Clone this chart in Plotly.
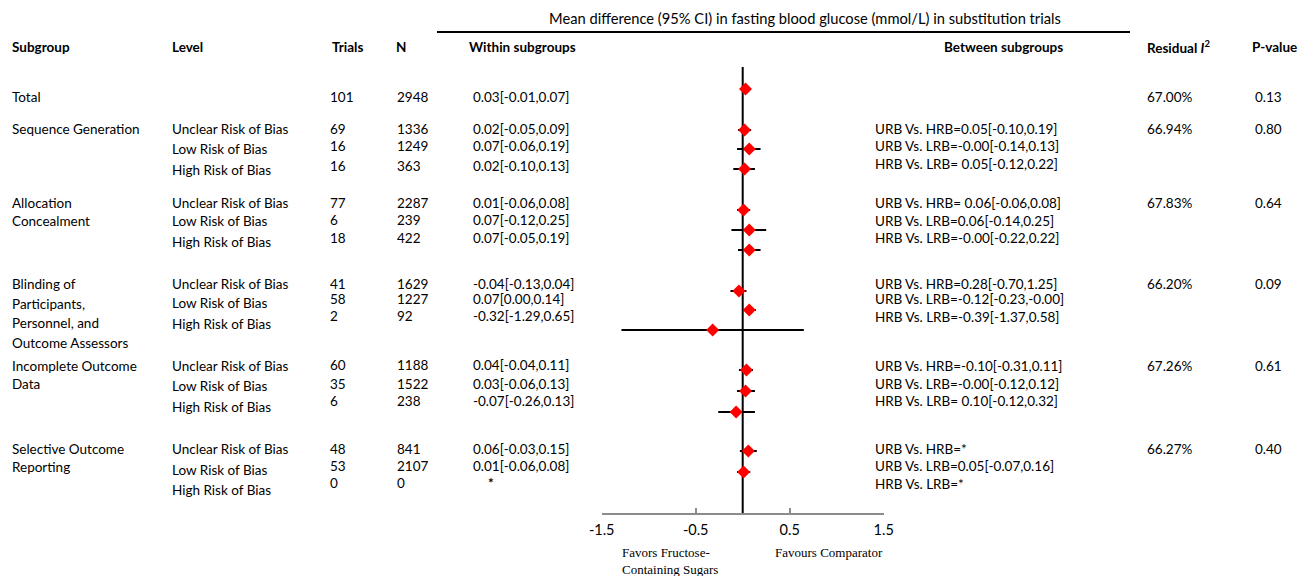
import plotly.graph_objects as go

W, H = 1305, 576

# ---------------- data ----------------
title_text = "Mean difference (95% CI) in fasting blood glucose (mmol/L) in substitution trials"
headers = ["Subgroup", "Level", "Trials", "N", "Within subgroups", "Between subgroups", "Residual <i>I</i><sup>2</sup>", "P-value"]

subgroup_lines = [
    ["Total"],
    ["Sequence Generation"],
    ["Allocation", "Concealment"],
    ["Blinding of", "Participants,", "Personnel, and", "Outcome Assessors"],
    ["Incomplete Outcome", "Data"],
    ["Selective Outcome", "Reporting"],
]
levels = ["Unclear Risk of Bias", "Low Risk of Bias", "High Risk of Bias"]

trials = [101, 69, 16, 16, 77, 6, 18, 41, 58, 2, 60, 35, 6, 48, 53, 0]
n_part = [2948, 1336, 1249, 363, 2287, 239, 422, 1629, 1227, 92, 1188, 1522, 238, 841, 2107, 0]
md = [0.03, 0.02, 0.07, 0.02, 0.01, 0.07, 0.07, -0.04, 0.07, -0.32, 0.04, 0.03, -0.07, 0.06, 0.01, None]
lo = [-0.01, -0.05, -0.06, -0.10, -0.06, -0.12, -0.05, -0.13, 0.00, -1.29, -0.04, -0.06, -0.26, -0.03, -0.06, None]
hi = [0.07, 0.09, 0.19, 0.13, 0.08, 0.25, 0.19, 0.04, 0.14, 0.65, 0.11, 0.13, 0.13, 0.15, 0.08, None]

between = [
    ["URB Vs. HRB=0.05[-0.10,0.19]", "URB Vs. LRB=-0.00[-0.14,0.13]", "HRB Vs. LRB= 0.05[-0.12,0.22]"],
    ["URB Vs. HRB= 0.06[-0.06,0.08]", "URB Vs. LRB=0.06[-0.14,0.25]", "HRB Vs. LRB=-0.00[-0.22,0.22]"],
    ["URB Vs. HRB=0.28[-0.70,1.25]", "URB Vs. LRB=-0.12[-0.23,-0.00]", "HRB Vs. LRB=-0.39[-1.37,0.58]"],
    ["URB Vs. HRB=-0.10[-0.31,0.11]", "URB Vs. LRB=-0.00[-0.12,0.12]", "HRB Vs. LRB= 0.10[-0.12,0.32]"],
    ["URB Vs. HRB=*", "URB Vs. LRB=0.05[-0.07,0.16]", "HRB Vs. LRB=*"],
]
residual = ["67.00%", "66.94%", "67.83%", "66.20%", "67.26%", "66.27%"]
pvalue = ["0.13", "0.80", "0.64", "0.09", "0.61", "0.40"]

tickvals = [-1.5, -0.5, 0.5, 1.5]
tick_text = ["-1.5", "-0.5", "0.5", "1.5"]
favors_left = "Favors Fructose-<br>Containing Sugars"
favors_right = "Favours Comparator"

# ---------------- layout constants (pixels) ----------------
FONT = "Lato"
FS = 13.5
AXIS_Y = 513
ZERO_X_PX = 742.7
PX_PER_UNIT = 94.0

point_y = [89, 130, 149, 169, 210, 230, 250, 291, 310, 330, 370, 391, 412, 451, 472, 492]
num_y = [97, 129, 146, 166, 203, 220, 238, 284, 299, 316, 365, 384, 401, 449, 466, 483]
level_y = [None, 129, 149, 170, 203, 221, 242, 284, 303, 324, 366, 386, 407, 449, 470, 490]
group_top = [97, 129, 203, 284, 366, 449]
group_line_gap = [19, 19, 17.5, 19.5, 18, 18]
between_y = [[129, 146, 164], [203, 221, 238], [284, 299, 317], [366, 384, 401], [449, 466, 484]]

col_x = {"sub": 10, "level": 170, "trials": 328, "n": 395, "within": 471,
         "between": 873, "res": 1145, "p": 1253}


def px(x):
    return x / W


def py(y):
    return 1 - y / H


fig = go.Figure()

# forest points
xs, ys, ep, em = [], [], [], []
for i in range(len(md)):
    if md[i] is None:
        continue
    xs.append(md[i])
    ys.append(point_y[i])
    ep.append(hi[i] - md[i])
    em.append(md[i] - lo[i])

fig.add_trace(go.Scatter(
    x=xs, y=ys, mode="markers",
    marker=dict(symbol="diamond", size=10, color="#ff0000"),
    error_x=dict(type="data", symmetric=False, array=ep, arrayminus=em,
                 color="black", thickness=2, width=0),
    showlegend=False, hoverinfo="skip", cliponaxis=False,
))

ann = []


def txt(x, y, s, bold=False, size=FS, xanchor="left", family=FONT):
    if bold:
        s = "<b>" + s + "</b>"
    ann.append(dict(x=px(x), y=py(y), xref="paper", yref="paper", text=s,
                    showarrow=False, xanchor=xanchor, yanchor="middle",
                    font=dict(family=family, size=size, color="black")))


# title
txt(805, 18, title_text, xanchor="center", size=14.7)
# headers
hy = 47
txt(col_x["sub"], hy, headers[0], bold=True)
txt(col_x["level"], hy, headers[1], bold=True)
txt(330, hy, headers[2], bold=True)
txt(394, hy, headers[3], bold=True)
txt(467, hy, headers[4], bold=True)
txt(1003, hy, headers[5], bold=True, xanchor="center")
txt(col_x["res"], hy, headers[6], bold=True)
txt(1250, hy, headers[7], bold=True)

# subgroup names
for g, lines in enumerate(subgroup_lines):
    for k, line in enumerate(lines):
        txt(col_x["sub"], group_top[g] + k * group_line_gap[g], line)

# rows
for i in range(len(trials)):
    if i > 0:
        txt(col_x["level"], level_y[i], levels[(i - 1) % 3])
    txt(col_x["trials"], num_y[i], str(trials[i]))
    txt(col_x["n"], num_y[i], str(n_part[i]))
    if md[i] is None:
        txt(col_x["within"] + 15, num_y[i], "*", bold=True)
    else:
        txt(col_x["within"], num_y[i], f"{md[i]:.2f}[{lo[i]:.2f},{hi[i]:.2f}]")

for g in range(len(between)):
    for k in range(3):
        txt(col_x["between"], between_y[g][k], between[g][k])

for g in range(len(residual)):
    txt(col_x["res"], group_top[g], residual[g])
    txt(col_x["p"], group_top[g], pvalue[g])

# favours labels
ann.append(dict(x=px(620), y=py(543), xref="paper", yref="paper", text=favors_left,
                showarrow=False, xanchor="left", yanchor="top", align="left",
                font=dict(family="Liberation Serif", size=13, color="black")))
ann.append(dict(x=px(773), y=py(543), xref="paper", yref="paper", text=favors_right,
                showarrow=False, xanchor="left", yanchor="top", align="left",
                font=dict(family="Liberation Serif", size=13, color="black")))

shapes = [
    # line under the title
    dict(type="line", xref="paper", yref="paper", x0=px(437), x1=px(1130),
         y0=py(32), y1=py(32), line=dict(color="black", width=2)),
    # zero line
    dict(type="line", xref="x", yref="y", x0=0, x1=0, y0=67, y1=AXIS_Y,
         line=dict(color="black", width=2), layer="below"),
]

x_lo = -1.5
x_hi = 1.5
dom0 = (ZERO_X_PX + x_lo * PX_PER_UNIT) / W
dom1 = (ZERO_X_PX + x_hi * PX_PER_UNIT) / W

fig.update_layout(
    width=W, height=H,
    margin=dict(l=0, r=0, t=0, b=0, autoexpand=False),
    paper_bgcolor="white", plot_bgcolor="white",
    xaxis=dict(domain=[dom0, dom1], range=[x_lo, x_hi], tickvals=tickvals, ticktext=tick_text,
               ticks="inside", ticklen=5, tickcolor="#8c8c8c", tickwidth=1.5,
               ticklabelstandoff=3,
               showline=True, linecolor="#8c8c8c", linewidth=1.5,
               showgrid=False, zeroline=False,
               tickfont=dict(family=FONT, size=14.5, color="black")),
    yaxis=dict(domain=[(H - AXIS_Y) / H, 1], range=[AXIS_Y, 0], visible=False,
               showgrid=False, zeroline=False),
    annotations=ann, shapes=shapes, showlegend=False,
)

fig.write_html("out.html")
